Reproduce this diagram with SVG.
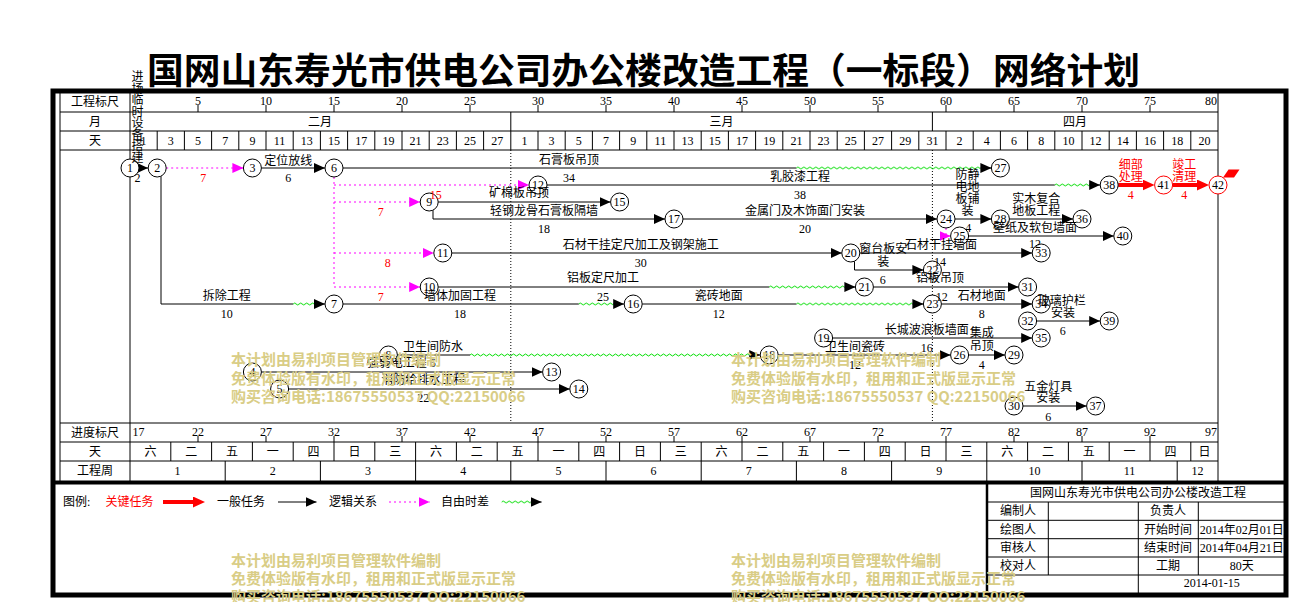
<svg xmlns="http://www.w3.org/2000/svg" width="1292" height="602" viewBox="0 0 1292 602">
<style>
text{font-family:"Liberation Serif","Noto Sans CJK SC",serif;font-size:12px;fill:#000;text-anchor:middle;dominant-baseline:central}
.s{text-anchor:start}
.e{text-anchor:end}
.r{fill:#f00}
.ttl{font-family:"Noto Sans CJK SC",sans-serif;font-size:36px;font-weight:bold}
.wm{font-family:"Noto Sans CJK SC",sans-serif;font-size:15px;font-weight:bold;fill:#D9CD86;text-anchor:start}
.ln{fill:none;stroke:#000;stroke-width:1}
.lg{fill:none;stroke:#f0f;stroke-width:1;stroke-dasharray:2 3}
.cr{fill:none;stroke:#f00;stroke-width:4}
.dt{fill:none;stroke:#000;stroke-width:1;stroke-dasharray:1 2}
.wv{fill:url(#wv)}
.nd circle{fill:#fff;stroke:#000;stroke-width:1}
.nr circle{fill:#fff;stroke:#f00;stroke-width:1}
</style>
<defs>
<marker id="ab" viewBox="0 0 11 10" markerWidth="11" markerHeight="10" refX="11" refY="5" orient="auto" markerUnits="userSpaceOnUse"><path d="M0,0L11,5L0,10z" fill="#000"/></marker>
<marker id="am" viewBox="0 0 11 10" markerWidth="11" markerHeight="10" refX="11" refY="5" orient="auto" markerUnits="userSpaceOnUse"><path d="M0,0L11,5L0,10z" fill="#f0f"/></marker>
<marker id="ar" viewBox="0 0 12 11" markerWidth="12" markerHeight="11" refX="5" refY="5.5" orient="auto" markerUnits="userSpaceOnUse"><path d="M0,0L12,5.5L0,11z" fill="#f00"/></marker>
<pattern id="wv" width="6" height="6" y="-3" patternUnits="userSpaceOnUse"><path d="M0,3Q1.5,1 3,3T6,3" fill="none" stroke="#00DD00" stroke-width="1"/></pattern>
</defs>
<rect width="1292" height="602" fill="#fff"/>
<text class="ttl" x="643.5" y="68" textLength="993" lengthAdjust="spacingAndGlyphs">国网山东寿光市供电公司办公楼改造工程（一标段）网络计划</text>

<g id="frame">
<rect x="53" y="91" width="1233" height="504" fill="none" stroke="#000" stroke-width="5"/>
<path d="M53,482.5H1286" stroke="#000" stroke-width="4"/>
<path class="ln" d="M60,91V482M130,91V482M1218,91V482M60,112H1218M60,131H1218M60,150H1218M60,423H1218M60,442H1218M60,461H1218"/>
<path class="ln" d="M157.2,131V150M184.4,131V150M211.6,131V150M238.8,131V150M266,131V150M293.2,131V150M320.4,131V150M347.6,131V150M374.8,131V150M402,131V150M429.2,131V150M456.4,131V150M483.6,131V150M510.8,112V150M538,131V150M565.2,131V150M592.4,131V150M619.6,131V150M646.8,131V150M674,131V150M701.2,131V150M728.4,131V150M755.6,131V150M782.8,131V150M810,131V150M837.2,131V150M864.4,131V150M891.6,131V150M918.8,131V150M946,131V150M973.2,131V150M1000.4,131V150M1027.6,131V150M1054.8,131V150M1082,131V150M1109.2,131V150M1136.4,131V150M1163.6,131V150M1190.8,131V150M932.4,112V131"/>
<path class="ln" d="M198,105V112M266,105V112M334,105V112M402,105V112M470,105V112M538,105V112M606,105V112M674,105V112M742,105V112M810,105V112M878,105V112M946,105V112M1014,105V112M1082,105V112M1150,105V112"/>
<path class="ln" d="M198,436V442M266,436V442M334,436V442M402,436V442M470,436V442M538,436V442M606,436V442M674,436V442M742,436V442M810,436V442M878,436V442M946,436V442M1014,436V442M1082,436V442M1150,436V442"/>
<path class="ln" d="M170.8,442V461M211.6,442V461M252.4,442V461M293.2,442V461M334,442V461M374.8,442V461M415.6,442V461M456.4,442V461M497.2,442V461M538,442V461M578.8,442V461M619.6,442V461M660.4,442V461M701.2,442V461M742,442V461M782.8,442V461M823.6,442V461M864.4,442V461M905.2,442V461M946,442V461M986.8,442V461M1027.6,442V461M1068.4,442V461M1109.2,442V461M1150,442V461M1190.8,442V461"/>
<path class="ln" d="M225.2,461V481M320.4,461V481M415.6,461V481M510.8,461V481M606,461V481M701.2,461V481M796.4,461V481M891.6,461V481M986.8,461V481M1082,461V481M1177.2,461V481"/>
<path class="dt" d="M510.8,150V423M932.4,150V423"/>
</g>

<g id="scale-text">
<text x="95" y="101.5">工程标尺</text>
<text x="95" y="121.5">月</text>
<text x="95" y="140.5">天</text>
<text x="95" y="432.5">进度标尺</text>
<text x="95" y="451.5">天</text>
<text x="95" y="471">工程周</text>
<text x="198" y="100.5">5</text><text x="266" y="100.5">10</text><text x="334" y="100.5">15</text><text x="402" y="100.5">20</text><text x="470" y="100.5">25</text><text x="538" y="100.5">30</text><text x="606" y="100.5">35</text><text x="674" y="100.5">40</text><text x="742" y="100.5">45</text><text x="810" y="100.5">50</text><text x="878" y="100.5">55</text><text x="946" y="100.5">60</text><text x="1014" y="100.5">65</text><text x="1082" y="100.5">70</text><text x="1150" y="100.5">75</text><text class="e" x="1217" y="100.5">80</text>
<text x="320" y="121.5">二月</text><text x="721.6" y="121.5">三月</text><text x="1075" y="121.5">四月</text>
<text x="143.6" y="140.5">1</text><text x="170.8" y="140.5">3</text><text x="198" y="140.5">5</text><text x="225.2" y="140.5">7</text><text x="252.4" y="140.5">9</text><text x="279.6" y="140.5">11</text><text x="306.8" y="140.5">13</text><text x="334" y="140.5">15</text><text x="361.2" y="140.5">17</text><text x="388.4" y="140.5">19</text><text x="415.6" y="140.5">21</text><text x="442.8" y="140.5">23</text><text x="470" y="140.5">25</text><text x="497.2" y="140.5">27</text>
<text x="524.4" y="140.5">1</text><text x="551.6" y="140.5">3</text><text x="578.8" y="140.5">5</text><text x="606" y="140.5">7</text><text x="633.2" y="140.5">9</text><text x="660.4" y="140.5">11</text><text x="687.6" y="140.5">13</text><text x="714.8" y="140.5">15</text><text x="742" y="140.5">17</text><text x="769.2" y="140.5">19</text><text x="796.4" y="140.5">21</text><text x="823.6" y="140.5">23</text><text x="850.8" y="140.5">25</text><text x="878" y="140.5">27</text><text x="905.2" y="140.5">29</text><text x="932.4" y="140.5">31</text>
<text x="959.6" y="140.5">2</text><text x="986.8" y="140.5">4</text><text x="1014" y="140.5">6</text><text x="1041.2" y="140.5">8</text><text x="1068.4" y="140.5">10</text><text x="1095.6" y="140.5">12</text><text x="1122.8" y="140.5">14</text><text x="1150" y="140.5">16</text><text x="1177.2" y="140.5">18</text><text x="1204.4" y="140.5">20</text>
<text class="s" x="132.5" y="432">17</text><text x="198" y="432">22</text><text x="266" y="432">27</text><text x="334" y="432">32</text><text x="402" y="432">37</text><text x="470" y="432">42</text><text x="538" y="432">47</text><text x="606" y="432">52</text><text x="674" y="432">57</text><text x="742" y="432">62</text><text x="810" y="432">67</text><text x="878" y="432">72</text><text x="946" y="432">77</text><text x="1014" y="432">82</text><text x="1082" y="432">87</text><text x="1150" y="432">92</text><text class="e" x="1217" y="432">97</text>
<text x="150.4" y="451.5">六</text><text x="191.2" y="451.5">二</text><text x="232" y="451.5">五</text><text x="272.8" y="451.5">一</text><text x="313.6" y="451.5">四</text><text x="354.4" y="451.5">日</text><text x="395.2" y="451.5">三</text><text x="436" y="451.5">六</text><text x="476.8" y="451.5">二</text><text x="517.6" y="451.5">五</text><text x="558.4" y="451.5">一</text><text x="599.2" y="451.5">四</text><text x="640" y="451.5">日</text><text x="680.8" y="451.5">三</text><text x="721.6" y="451.5">六</text><text x="762.4" y="451.5">二</text><text x="803.2" y="451.5">五</text><text x="844" y="451.5">一</text><text x="884.8" y="451.5">四</text><text x="925.6" y="451.5">日</text><text x="966.4" y="451.5">三</text><text x="1007.2" y="451.5">六</text><text x="1048" y="451.5">二</text><text x="1088.8" y="451.5">五</text><text x="1129.6" y="451.5">一</text><text x="1170.4" y="451.5">四</text><text x="1204.4" y="451.5">日</text>
<text x="177.6" y="471">1</text><text x="272.8" y="471">2</text><text x="368" y="471">3</text><text x="463.2" y="471">4</text><text x="558.4" y="471">5</text><text x="653.6" y="471">6</text><text x="748.8" y="471">7</text><text x="844" y="471">8</text><text x="939.2" y="471">9</text><text x="1034.4" y="471">10</text><text x="1129.6" y="471">11</text><text x="1197.6" y="471">12</text>
</g>

<g id="connectors">
<path class="ln" d="M139,168H148.2" marker-end="url(#ab)"/>
<path class="lg" d="M166.2,168H243.4" marker-end="url(#am)"/>
<path class="ln" d="M261.4,168H325" marker-end="url(#ab)"/>
<path class="ln" d="M343,168H796.4"/><rect class="wv" x="0" y="-3" width="184" height="6" transform="translate(796.4,168)"/><path class="ln" d="M980.4,168H991.4" marker-end="url(#ab)"/>
<path class="ln" d="M161,176.2V304H293.2"/><rect class="wv" x="0" y="-3" width="20.8" height="6" transform="translate(293.2,304)"/><path class="ln" d="M314,304H325" marker-end="url(#ab)"/>
<path class="lg" d="M334,177V287"/>
<path class="lg" d="M334,185H529" marker-end="url(#am)"/>
<path class="lg" d="M334,202H420.2" marker-end="url(#am)"/>
<path class="lg" d="M334,253H433.8" marker-end="url(#am)"/>
<path class="lg" d="M334,287H420.2" marker-end="url(#am)"/>
<path class="ln" d="M547,185H1054.8"/><rect class="wv" x="0" y="-3" width="34.4" height="6" transform="translate(1054.8,185)"/><path class="ln" d="M1089.2,185H1100.2" marker-end="url(#ab)"/>
<path class="cr" d="M1118.2,185H1147.6" marker-end="url(#ar)"/>
<path class="cr" d="M1172.6,185H1202" marker-end="url(#ar)"/>
<path class="ln" d="M438.2,202H610.6" marker-end="url(#ab)"/>
<path class="ln" d="M433,210.2V219H665" marker-end="url(#ab)"/>
<path class="ln" d="M683,219H937" marker-end="url(#ab)"/>
<path class="ln" d="M955,219H991.4" marker-end="url(#ab)"/>
<path class="ln" d="M1009.4,219H1073" marker-end="url(#ab)"/>
<path class="lg" d="M946,228V236H950.6" marker-end="url(#am)"/>
<path class="ln" d="M968.6,236H1113.8" marker-end="url(#ab)"/>
<path class="ln" d="M451.8,253H841.8" marker-end="url(#ab)"/>
<path class="ln" d="M859.8,253H1032.2" marker-end="url(#ab)"/>
<path class="ln" d="M854.5,261.3V270H923.4" marker-end="url(#ab)"/>
<path class="ln" d="M438.2,287H769.2"/><rect class="wv" x="0" y="-3" width="75.2" height="6" transform="translate(769.2,287)"/><path class="ln" d="M844.4,287H855.4" marker-end="url(#ab)"/>
<path class="ln" d="M873.4,287H1018.6" marker-end="url(#ab)"/>
<path class="ln" d="M343,304H578.8"/><rect class="wv" x="0" y="-3" width="34.4" height="6" transform="translate(578.8,304)"/><path class="ln" d="M613.2,304H624.2" marker-end="url(#ab)"/>
<path class="ln" d="M642.2,304H796.4"/><rect class="wv" x="0" y="-3" width="116" height="6" transform="translate(796.4,304)"/><path class="ln" d="M912.4,304H923.4" marker-end="url(#ab)"/>
<path class="ln" d="M941.4,304H1032.2" marker-end="url(#ab)"/>
<path class="ln" d="M1036.6,321H1100.2" marker-end="url(#ab)"/>
<path class="ln" d="M832.6,338H1032.2" marker-end="url(#ab)"/>
<path class="ln" d="M397.4,355H470"/><rect class="wv" x="0" y="-3" width="279.2" height="6" transform="translate(470,355)"/><path class="ln" d="M749.2,355H760.2" marker-end="url(#ab)"/>
<path class="ln" d="M778.2,355H950.6" marker-end="url(#ab)"/>
<path class="ln" d="M968.6,355H1005" marker-end="url(#ab)"/>
<path class="ln" d="M261.4,372H542.6" marker-end="url(#ab)"/>
<path class="ln" d="M288.6,389H569.8" marker-end="url(#ab)"/>
<path class="ln" d="M1023,406H1086.6" marker-end="url(#ab)"/>
</g>

<g id="node-1" class="nd"><circle cx="130" cy="168" r="9"/><text x="130" y="168">1</text></g>
<g id="node-2" class="nd"><circle cx="157.2" cy="168" r="9"/><text x="157.2" y="168">2</text></g>
<g id="node-3" class="nd"><circle cx="252.4" cy="168" r="9"/><text x="252.4" y="168">3</text></g>
<g id="node-6" class="nd"><circle cx="334" cy="168" r="9"/><text x="334" y="168">6</text></g>
<g id="node-27" class="nd"><circle cx="1000.4" cy="168" r="9"/><text x="1000.4" y="168">27</text></g>
<g id="node-12" class="nd"><circle cx="538" cy="185" r="9"/><text x="538" y="185">12</text></g>
<g id="node-38" class="nd"><circle cx="1109.2" cy="185" r="9"/><text x="1109.2" y="185">38</text></g>
<g id="node-41" class="nr"><circle cx="1163.6" cy="185" r="9"/><text x="1163.6" y="185">41</text></g>
<g id="node-42" class="nr"><circle cx="1218" cy="185" r="9"/><polygon points="1223,177.5 1228.5,169.5 1239.5,169.5 1234,177.5" fill="#f00"/><text x="1218" y="185">42</text></g>
<g id="node-9" class="nd"><circle cx="429.2" cy="202" r="9"/><text x="429.2" y="202">9</text></g>
<g id="node-15" class="nd"><circle cx="619.6" cy="202" r="9"/><text x="619.6" y="202">15</text></g>
<g id="node-17" class="nd"><circle cx="674" cy="219" r="9"/><text x="674" y="219">17</text></g>
<g id="node-24" class="nd"><circle cx="946" cy="219" r="9"/><text x="946" y="219">24</text></g>
<g id="node-28" class="nd"><circle cx="1000.4" cy="219" r="9"/><text x="1000.4" y="219">28</text></g>
<g id="node-36" class="nd"><circle cx="1082" cy="219" r="9"/><text x="1082" y="219">36</text></g>
<g id="node-25" class="nd"><circle cx="959.6" cy="236" r="9"/><text x="959.6" y="236">25</text></g>
<g id="node-40" class="nd"><circle cx="1122.8" cy="236" r="9"/><text x="1122.8" y="236">40</text></g>
<g id="node-11" class="nd"><circle cx="442.8" cy="253" r="9"/><text x="442.8" y="253">11</text></g>
<g id="node-20" class="nd"><circle cx="850.8" cy="253" r="9"/><text x="850.8" y="253">20</text></g>
<g id="node-33" class="nd"><circle cx="1041.2" cy="253" r="9"/><text x="1041.2" y="253">33</text></g>
<g id="node-22" class="nd"><circle cx="932.4" cy="270" r="9"/><text x="932.4" y="270">22</text></g>
<g id="node-10" class="nd"><circle cx="429.2" cy="287" r="9"/><text x="429.2" y="287">10</text></g>
<g id="node-21" class="nd"><circle cx="864.4" cy="287" r="9"/><text x="864.4" y="287">21</text></g>
<g id="node-31" class="nd"><circle cx="1027.6" cy="287" r="9"/><text x="1027.6" y="287">31</text></g>
<g id="node-7" class="nd"><circle cx="334" cy="304" r="9"/><text x="334" y="304">7</text></g>
<g id="node-16" class="nd"><circle cx="633.2" cy="304" r="9"/><text x="633.2" y="304">16</text></g>
<g id="node-23" class="nd"><circle cx="932.4" cy="304" r="9"/><text x="932.4" y="304">23</text></g>
<g id="node-34" class="nd"><circle cx="1041.2" cy="304" r="9"/><text x="1041.2" y="304">34</text></g>
<g id="node-32" class="nd"><circle cx="1027.6" cy="321" r="9"/><text x="1027.6" y="321">32</text></g>
<g id="node-39" class="nd"><circle cx="1109.2" cy="321" r="9"/><text x="1109.2" y="321">39</text></g>
<g id="node-19" class="nd"><circle cx="823.6" cy="338" r="9"/><text x="823.6" y="338">19</text></g>
<g id="node-35" class="nd"><circle cx="1041.2" cy="338" r="9"/><text x="1041.2" y="338">35</text></g>
<g id="node-8" class="nd"><circle cx="388.4" cy="355" r="9"/><text x="388.4" y="355">8</text></g>
<g id="node-18" class="nd"><circle cx="769.2" cy="355" r="9"/><text x="769.2" y="355">18</text></g>
<g id="node-26" class="nd"><circle cx="959.6" cy="355" r="9"/><text x="959.6" y="355">26</text></g>
<g id="node-29" class="nd"><circle cx="1014" cy="355" r="9"/><text x="1014" y="355">29</text></g>
<g id="node-4" class="nd"><circle cx="252.4" cy="372" r="9"/><text x="252.4" y="372">4</text></g>
<g id="node-13" class="nd"><circle cx="551.6" cy="372" r="9"/><text x="551.6" y="372">13</text></g>
<g id="node-5" class="nd"><circle cx="279.6" cy="389" r="9"/><text x="279.6" y="389">5</text></g>
<g id="node-14" class="nd"><circle cx="578.8" cy="389" r="9"/><text x="578.8" y="389">14</text></g>
<g id="node-30" class="nd"><circle cx="1014" cy="406" r="9"/><text x="1014" y="406">30</text></g>
<g id="node-37" class="nd"><circle cx="1095.6" cy="406" r="9"/><text x="1095.6" y="406">37</text></g>

<g id="task-labels">
<text x="137.5" y="77">进</text><text x="137.5" y="88.5">场</text><text x="137.5" y="100">临</text><text x="137.5" y="111.5">时</text><text x="137.5" y="123">设</text><text x="137.5" y="134.5">备</text><text x="137.5" y="146">搭</text><text x="137.5" y="157.5">建</text>
<text x="137.5" y="178">2</text>
<text class="r" x="203.3" y="178.3">7</text>
<text x="288.3" y="160.7">定位放线</text><text x="288.3" y="178.3">6</text>
<text x="569" y="160">石膏板吊顶</text><text x="569" y="178.3">34</text>
<text class="r" x="435.7" y="195">15</text>
<text class="r" x="380.7" y="212.3">7</text>
<text class="r" x="387.7" y="263.3">8</text>
<text class="r" x="380.7" y="296.7">7</text>
<text x="800" y="176.7">乳胶漆工程</text><text x="800" y="195">38</text>
<text class="r" x="1130.7" y="165">细部</text><text class="r" x="1130.7" y="176.7">处理</text><text class="r" x="1130.7" y="195">4</text>
<text class="r" x="1184.3" y="165">竣工</text><text class="r" x="1184.3" y="176.7">清理</text><text class="r" x="1184.3" y="195">4</text>
<text x="519" y="193.3">矿棉板吊顶</text>
<text x="544" y="211">轻钢龙骨石膏板隔墙</text><text x="544" y="229.3">18</text>
<text x="805" y="211">金属门及木饰面门安装</text><text x="805" y="229.3">20</text>
<text x="967.5" y="175">防静</text><text x="967.5" y="187">电地</text><text x="967.5" y="199">板铺</text><text x="967.5" y="211">装</text><text x="968.3" y="228.3">4</text>
<text x="1036.3" y="199.3">实木复合</text><text x="1036.3" y="211">地板工程</text>
<text x="1035" y="228.3">壁纸及软包墙面</text><text x="1035" y="244.3">12</text>
<text x="640.8" y="245">石材干挂定尺加工及钢架施工</text><text x="640.8" y="262.7">30</text>
<text x="941" y="245">石材干挂墙面</text><text x="940" y="262.3">14</text>
<text x="883.3" y="249.3">窗台板安</text><text x="883.3" y="261.7">装</text><text x="882.7" y="280">6</text>
<text x="603" y="278.3">铝板定尺加工</text><text x="603" y="296.7">25</text>
<text x="940" y="278.3">铝板吊顶</text><text x="941.7" y="296.7">12</text>
<text x="226.7" y="295.7">拆除工程</text><text x="226.7" y="314">10</text>
<text x="460" y="295.7">墙体加固工程</text><text x="460" y="314">18</text>
<text x="718.8" y="295.7">瓷砖地面</text><text x="718.8" y="314">12</text>
<text x="981.7" y="295.7">石材地面</text><text x="981.7" y="313.5">8</text>
<text x="1061.7" y="300.7">玻璃护栏</text><text x="1063" y="312.5">安装</text><text x="1062.7" y="330.7">6</text>
<text x="926.7" y="330">长城波浪板墙面</text><text x="926.7" y="348.3">16</text>
<text x="981.7" y="333.3">集成</text><text x="981.7" y="346">吊顶</text><text x="981.7" y="365">4</text>
<text x="855" y="346.7">卫生间瓷砖</text><text x="855" y="365">12</text>
<text x="433" y="346.7">卫生间防水</text><text x="432.7" y="362.7">6</text>
<text x="396.7" y="362.7">强弱电工程</text>
<text x="423.3" y="380">消防给排水工程</text><text x="423.3" y="398.3">22</text>
<text x="1048.3" y="386.7">五金灯具</text><text x="1048.3" y="398.3">安装</text><text x="1048.3" y="416.7">6</text>
</g>

<g id="legend">
<text class="s" x="63" y="502">图例:</text>
<text class="s r" x="105.6" y="502">关键任务</text>
<path class="cr" d="M163,502H198" marker-end="url(#ar)"/>
<text class="s" x="217" y="502">一般任务</text>
<path class="ln" d="M278,502H316.5" marker-end="url(#ab)"/>
<text class="s" x="329" y="502">逻辑关系</text>
<path class="lg" d="M389,502H429.6" marker-end="url(#am)"/>
<text class="s" x="441" y="502">自由时差</text>
<rect class="wv" x="0" y="-3" width="28.9" height="6" transform="translate(501.7,502)"/>
<path class="ln" d="M530.6,502H541.6" marker-end="url(#ab)"/>
</g>

<g id="title-block">
<path d="M987,482V595" stroke="#000" stroke-width="2.5"/>
<path class="ln" d="M987,502H1286M987,520.3H1286M987,538.7H1286M987,557H1286M987,575H1286M1048.3,502V575M1138.3,502V595M1198.3,502V575"/>
<text x="1138" y="493">国网山东寿光市供电公司办公楼改造工程</text>
<text x="1018" y="511">编制人</text><text x="1168" y="511">负责人</text>
<text x="1018" y="529.5">绘图人</text><text x="1168" y="529.5">开始时间</text><text x="1241.7" y="529.5">2014年02月01日</text>
<text x="1018" y="548">审核人</text><text x="1168" y="548">结束时间</text><text x="1241.7" y="548">2014年04月21日</text>
<text x="1018" y="566">校对人</text><text x="1168" y="566">工期</text><text x="1241.7" y="566">80天</text>
<text x="1211.7" y="583">2014-01-15</text>
</g>

<g id="watermarks">
<text class="wm" x="231" y="358.5">本计划由易利项目管理软件编制</text>
<text class="wm" x="231" y="377">免费体验版有水印，租用和正式版显示正常</text>
<text class="wm" x="231" y="395.5">购买咨询电话:18675550537 QQ:22150066</text>
<text class="wm" x="731" y="358.5">本计划由易利项目管理软件编制</text>
<text class="wm" x="731" y="377">免费体验版有水印，租用和正式版显示正常</text>
<text class="wm" x="731" y="395.5">购买咨询电话:18675550537 QQ:22150066</text>
<text class="wm" x="231" y="559.5">本计划由易利项目管理软件编制</text>
<text class="wm" x="231" y="577.5">免费体验版有水印，租用和正式版显示正常</text>
<text class="wm" x="231" y="595.5">购买咨询电话:18675550537 QQ:22150066</text>
<text class="wm" x="731" y="559.5">本计划由易利项目管理软件编制</text>
<text class="wm" x="731" y="577.5">免费体验版有水印，租用和正式版显示正常</text>
<text class="wm" x="731" y="595.5">购买咨询电话:18675550537 QQ:22150066</text>
</g>
</svg>
